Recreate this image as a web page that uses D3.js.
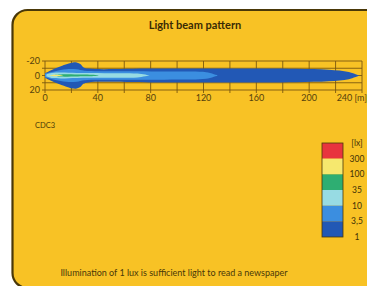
<!DOCTYPE html>
<html>
<head>
<meta charset="utf-8">
<script src="https://cdn.jsdelivr.net/npm/d3@7"></script>
<style>
  body { margin: 0; background: #fff; }
  svg { display: block; font-family: Lato, "Open Sans", sans-serif; }
</style>
</head>
<body>
<svg width="367" height="286"></svg>
<script>
// distance ticks in metres, lateral ticks in metres
const xTicks = [0, 40, 80, 120, 160, 200, 240];
const yTicks = [-20, 0, 20];
const xGrid = [0, 20, 40, 60, 80, 100, 120, 140, 160, 180, 200, 220, 240];
const yGrid = [-20, -10, 0, 10, 20];

// iso-lux contours: [distance m, half width m]
const lux1 = [[0, 3], [3, 6], [8, 10], [13, 13.5], [18, 16.5], [21, 18], [24, 18], [27, 15.5], [29, 11.5], [33, 9.5], [80, 9.5], [140, 9.5], [190, 9.2], [215, 8], [230, 5], [238, 0]];
const lux3_5 = [[0, 2.5], [4, 4.5], [10, 7], [18, 9], [24, 8.5], [30, 6.5], [60, 6], [100, 5.5], [122, 4.5], [131, 0]];
const lux10 = [[1, 1.5], [5, 3.5], [12, 4], [24, 3.4], [45, 3.2], [70, 2.6], [79, 0]];
const lux35 = [[7, 0.8], [12, 1.5], [25, 1.3], [38, 0.8], [41, 0]];
const lux100 = [[4, 0.5], [7, 1], [11, 0.8], [14, 0]];

const contours = [
  { name: "1", pts: lux1, color: "#2258b5" },
  { name: "3,5", pts: lux3_5, color: "#3b8ee0" },
  { name: "10", pts: lux10, color: "#97dbe3" },
  { name: "35", pts: lux35, color: "#2eae72" },
  { name: "100", pts: lux100, color: "#f6e86e" }
];

// legend, top to bottom
const legendColors = ["#e8343e", "#f6e86e", "#2eae72", "#97dbe3", "#3b8ee0", "#2258b5"];
const legendLabels = ["[lx]", "300", "100", "35", "10", "3,5", "1"];

const svg = d3.select('svg');
const ink = '#4a3808';

// panel
svg.append('rect')
  .attr('x', 12.5).attr('y', 10)
  .attr('width', 380).attr('height', 278)
  .attr('rx', 15)
  .attr('fill', '#f8c225')
  .attr('stroke', ink)
  .attr('stroke-width', 2.2);

svg.append('text')
  .attr('x', 195).attr('y', 29)
  .attr('text-anchor', 'middle')
  .attr('font-size', 11).attr('font-weight', 'bold')
  .attr('fill', '#3a2b04')
  .text('Light beam pattern');

const x = d3.scaleLinear().domain([0, 240]).range([45, 362]);
const y = d3.scaleLinear().domain([-20, 20]).range([61, 90]);

const grid = svg.append('g').attr('stroke', '#7a5810').attr('stroke-width', 0.9);
grid.selectAll('.vg').data(xGrid).enter().append('line')
  .attr('x1', d => x(d)).attr('x2', d => x(d))
  .attr('y1', y(-20)).attr('y2', y(20) + 3);
grid.selectAll('.hg').data(yGrid).enter().append('line')
  .attr('x1', x(0) - 3).attr('x2', x(240))
  .attr('y1', d => y(d)).attr('y2', d => y(d));

// beam contours, mirrored about the axis
const area = d3.area()
  .x(d => x(d[0]))
  .y0(d => y(-d[1]))
  .y1(d => y(d[1]))
  .curve(d3.curveCatmullRom.alpha(0.5));

svg.append('defs').append('filter').attr('id', 'soft')
  .append('feGaussianBlur').attr('stdDeviation', 0.6);

svg.append('g').attr('filter', 'url(#soft)')
  .selectAll('path').data(contours).enter().append('path')
  .attr('d', d => area(d.pts))
  .attr('fill', d => d.color);

const tickStyle = sel => sel
  .attr('font-size', 9)
  .attr('fill', '#55410c');

svg.selectAll('.xt').data(xTicks).enter().append('text')
  .attr('x', d => d === 240 ? 367 : x(d))
  .attr('y', 101)
  .attr('text-anchor', d => d === 240 ? 'end' : 'middle')
  .call(tickStyle)
  .text(d => d === 240 ? '240 [m]' : d);

svg.selectAll('.yt').data(yTicks).enter().append('text')
  .attr('x', 40)
  .attr('y', d => y(d) + 3)
  .attr('text-anchor', 'end')
  .call(tickStyle)
  .text(d => d);

svg.append('text')
  .attr('x', 35).attr('y', 128)
  .attr('font-size', 7.5)
  .attr('fill', '#4a3808')
  .text('CDC3');

// legend
const ly = d3.scaleLinear().domain([0, legendColors.length]).range([143, 237]);
const lg = svg.append('g');
lg.selectAll('rect').data(legendColors).enter().append('rect')
  .attr('x', 322).attr('y', (d, i) => ly(i))
  .attr('width', 21).attr('height', ly(1) - ly(0))
  .attr('fill', d => d);
lg.append('rect')
  .attr('x', 322).attr('y', ly(0))
  .attr('width', 21).attr('height', ly(legendColors.length) - ly(0))
  .attr('fill', 'none').attr('stroke', ink).attr('stroke-width', 0.8);
lg.selectAll('text').data(legendLabels).enter().append('text')
  .attr('x', 357)
  .attr('y', (d, i) => ly(i) + 3)
  .attr('text-anchor', 'middle')
  .attr('font-size', 8.5)
  .attr('fill', '#3f3006')
  .text(d => d);

svg.append('text')
  .attr('x', 174).attr('y', 276)
  .attr('text-anchor', 'middle')
  .attr('font-size', 9)
  .attr('fill', '#4a3808')
  .text('Illumination of 1 lux is sufficient light to read a newspaper');
</script>
</body>
</html>
